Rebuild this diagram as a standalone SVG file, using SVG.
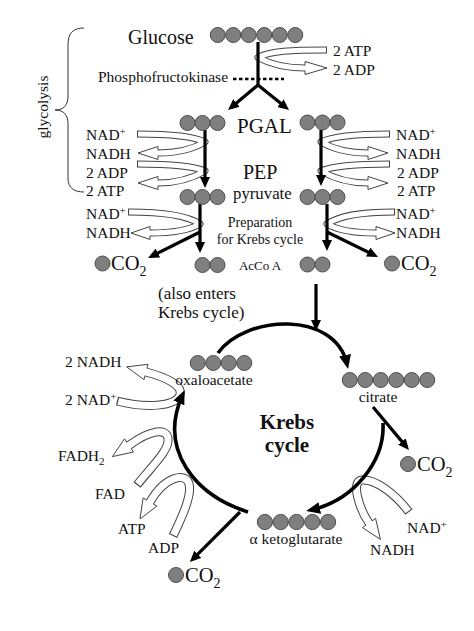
<svg xmlns="http://www.w3.org/2000/svg" width="474" height="631" viewBox="0 0 474 631">
<defs>
<style>
text{font-family:"Liberation Serif","Times New Roman",serif;fill:#111}
.c{fill:#7f7f7f;stroke:#4d4d4d;stroke-width:1}
.ln{fill:none;stroke:#000;stroke-width:3.2}
.arc{fill:none;stroke:#000;stroke-width:3.6}
.ob{fill:none;stroke:#444;stroke-width:7;stroke-linejoin:round}
.ow{fill:none;stroke:#fff;stroke-width:5;stroke-linejoin:round}
.kb{fill:none;stroke:#444;stroke-width:9;stroke-linejoin:round}
.kw{fill:none;stroke:#fff;stroke-width:7;stroke-linejoin:round}
.oh{fill:#fff;stroke:#444;stroke-width:1}
.s15{font-size:15.5px}
.s14{font-size:14px}
.big{font-size:20.5px}
.mid{text-anchor:middle}
</style>
<marker id="ah" viewBox="0 0 11 10" refX="7" refY="5" markerWidth="11" markerHeight="10" markerUnits="userSpaceOnUse" orient="auto"><path d="M0,0 L11,5 L0,10 z" fill="#000"/></marker>
<marker id="ak" viewBox="0 0 14 12" refX="9" refY="6" markerWidth="14" markerHeight="12" markerUnits="userSpaceOnUse" orient="auto"><path d="M0,0 L14,6 L0,12 z" fill="#000"/></marker>
</defs>
<rect width="474" height="631" fill="#fff"/>

<!-- brace and glycolysis label -->
<g id="glycolysis-brace">
<path d="M84,28 C72,28 68,34 68,45 L68,96 C68,105 64,110 55,110 C64,110 68,115 68,124 L68,178 C68,188 74,192 84,192" fill="none" stroke="#333" stroke-width="1"/>
<text transform="translate(48,107) rotate(-90)" class="s15 mid">glycolysis</text>
</g>

<!-- hollow cofactor arrows -->
<g id="cofactor-arrows">
<!-- glucose: 2 ATP in, 2 ADP out -->
<polygon class="oh" points="305,61.5 327,68 305,74.5"/>
<path class="ob" d="M327,50 C292,50 270,51 258,57.5 C270,64 285,68 305,68"/>
<path class="ow" d="M326,50 C292,50 270,51 258,57.5 C270,64 285,68 305,68 l2,0"/>
<!-- PGAL left -->
<polygon class="oh" points="158,146.5 138,153 158,159.5"/>
<polygon class="oh" points="158,176.5 138,183 158,189.5"/>
<path class="ob" d="M137,134 C170,134 193,136 205,142 C193,149 178,153 158,153"/>
<path class="ob" d="M137,164 C170,164 193,166 205,171 C193,178 178,183 158,183"/>
<path class="ow" d="M138,134 C170,134 193,136 205,142 C193,149 178,153 158,153 l-2,0"/>
<path class="ow" d="M138,164 C170,164 193,166 205,171 C193,178 178,183 158,183 l-2,0"/>
<!-- PGAL right -->
<polygon class="oh" points="368,146.5 388,153 368,159.5"/>
<polygon class="oh" points="368,176.5 388,183 368,189.5"/>
<path class="ob" d="M390,134 C356,134 333,136 321,142 C333,149 348,153 368,153"/>
<path class="ob" d="M390,164 C356,164 333,166 321,171 C333,178 348,183 368,183"/>
<path class="ow" d="M389,134 C356,134 333,136 321,142 C333,149 348,153 368,153 l2,0"/>
<path class="ow" d="M389,164 C356,164 333,166 321,171 C333,178 348,183 368,183 l2,0"/>
<!-- pyruvate left -->
<polygon class="oh" points="150,226.5 131,233 150,239.5"/>
<path class="ob" d="M128,212 C165,212 188,216 200,224 C188,231 170,233 150,233"/>
<path class="ow" d="M129,212 C165,212 188,216 200,224 C188,231 170,233 150,233 l-2,0"/>
<!-- pyruvate right -->
<polygon class="oh" points="376,226.5 395,233 376,239.5"/>
<path class="ob" d="M395,212 C358,212 339,216 327,224 C339,231 356,233 376,233"/>
<path class="ow" d="M394,212 C358,212 339,216 327,224 C339,231 356,233 376,233 l2,0"/>
<!-- Krebs: 2 NAD+ / 2 NADH -->
<polygon class="oh" points="148,364.3 126.7,366.9 144,379.7"/>
<path class="kb" d="M117,401 C145,408 175,407 180,395 C183,385 165,377 146,372"/>
<path class="kw" d="M118.2,401.3 C145,408 175,407 180,395 C183,385 165,377 146,372 l-1.9,-0.5"/>
<!-- Krebs: FAD / FADH2 -->
<polygon class="oh" points="133.5,452 112.4,456.6 124.5,438.8"/>
<path class="kb" d="M137,485 C152,466 170,450 168,438 C166,428 150,430 129,445.4"/>
<path class="kw" d="M137.7,484 C152,466 170,450 168,438 C166,428 150,430 129,445.4 l-1.7,1.2"/>
<!-- Krebs: ADP / ATP -->
<polygon class="oh" points="156.9,506.1 140,519 143.1,497.9"/>
<path class="kb" d="M173,536 C183,515 192,495 189,484 C186,472 165,476 150,502"/>
<path class="kw" d="M173.5,534.9 C183,515 192,495 189,484 C186,472 165,476 150,502 l-1,1.7"/>
<!-- Krebs: NAD+ / NADH -->
<polygon class="oh" points="375.6,518.4 380.4,539.4 362.4,527.6"/>
<path class="kb" d="M409,512 C395,494 376,479 362,480 C350,481 360,510 369,523"/>
<path class="kw" d="M408.3,511.1 C395,494 376,479 362,480 C350,481 360,510 369,523 l1.1,1.6"/>
</g>

<!-- connectors -->
<g id="connectors">
<path class="ln" d="M258,42 L258,85.5"/>
<path class="ln" d="M258,85 L231.1,107.4" marker-end="url(#ah)"/>
<path class="ln" d="M258,85 L285.9,107.5" marker-end="url(#ah)"/>
<path d="M233,79 L284,79" fill="none" stroke="#000" stroke-width="2.5" stroke-dasharray="3.5,2.5"/>
<path class="ln" d="M205,130 L205,184" marker-end="url(#ah)"/>
<path class="ln" d="M321,130 L321,182" marker-end="url(#ah)"/>
<path class="ln" d="M200,204 L200,249" marker-end="url(#ah)"/>
<path class="ln" d="M327,204 L327,247" marker-end="url(#ah)"/>
<path class="ln" d="M200,232 L151.6,256.2" marker-end="url(#ah)"/>
<path class="ln" d="M327,232 L374.4,255.2" marker-end="url(#ah)"/>
<path class="ln" d="M316,284 L316,327" marker-end="url(#ah)"/>
<path class="arc" d="M218,353 C245,315 335,310 347,364" marker-end="url(#ak)"/>
<path class="arc" d="M383,423 C385,460 355,500 311,510" marker-end="url(#ak)"/>
<path class="arc" d="M248,512 C195,495 158,450 182.5,394.7" marker-end="url(#ak)"/>
<path class="ln" d="M373,407 L406.4,446.9" marker-end="url(#ah)"/>
<path class="ln" d="M240,512 L192.8,559.2" marker-end="url(#ah)"/>
</g>

<!-- cofactor labels -->
<g id="labels">
<text x="333" y="55.5" class="s15">2 ATP</text>
<text x="333" y="74.5" class="s15">2 ADP</text>
<text x="98" y="82" class="s15">Phosphofructokinase</text>
<text x="86" y="139.5" class="s15">NAD<tspan font-size="11" dy="-5">+</tspan></text>
<text x="86" y="158.5" class="s15">NADH</text>
<text x="86" y="177.5" class="s15">2 ADP</text>
<text x="86" y="195.5" class="s15">2 ATP</text>
<text x="396" y="139.5" class="s15">NAD<tspan font-size="11" dy="-5">+</tspan></text>
<text x="396" y="158.5" class="s15">NADH</text>
<text x="397" y="177.5" class="s15">2 ADP</text>
<text x="397" y="195.5" class="s15">2 ATP</text>
<text x="86" y="218.5" class="s15">NAD<tspan font-size="11" dy="-5">+</tspan></text>
<text x="86" y="237.5" class="s15">NADH</text>
<text x="396" y="218.5" class="s15">NAD<tspan font-size="11" dy="-5">+</tspan></text>
<text x="396" y="237.5" class="s15">NADH</text>
<text x="260" y="227" class="s14 mid">Preparation</text>
<text x="260" y="244" class="s14 mid">for Krebs cycle</text>
<text x="158" y="298.5" font-size="17">(also enters</text>
<text x="158" y="317.5" font-size="17">Krebs cycle)</text>
<text x="65" y="366.5" class="s15">2 NADH</text>
<text x="65" y="405" class="s15">2 NAD<tspan font-size="11" dy="-5">+</tspan></text>
<text x="58" y="461" class="s15">FADH<tspan font-size="11" dy="4">2</tspan></text>
<text x="95" y="498.5" class="s15">FAD</text>
<text x="118" y="534" class="s15">ATP</text>
<text x="148" y="552.5" class="s15">ADP</text>
<text x="407" y="533" class="s15">NAD<tspan font-size="11" dy="-5">+</tspan></text>
<text x="370" y="555" class="s15">NADH</text>
</g>

<g id="glucose">
<text x="128" y="44" font-size="20">Glucose</text>
<circle class="c" cx="217.75" cy="35" r="7.5"/><circle class="c" cx="233.25" cy="35" r="7.5"/><circle class="c" cx="248.75" cy="35" r="7.5"/><circle class="c" cx="264.25" cy="35" r="7.5"/><circle class="c" cx="279.75" cy="35" r="7.5"/><circle class="c" cx="295.25" cy="35" r="7.5"/>
</g>

<g id="pgal">
<text x="237" y="133" font-size="21">PGAL</text>
<circle class="c" cx="187.5" cy="123" r="7.5"/><circle class="c" cx="202.5" cy="123" r="7.5"/><circle class="c" cx="217.5" cy="123" r="7.5"/>
<circle class="c" cx="307.5" cy="122.5" r="7.5"/><circle class="c" cx="322.5" cy="122.5" r="7.5"/><circle class="c" cx="337.5" cy="122.5" r="7.5"/>
</g>

<g id="pep">
<text x="243" y="179" font-size="20">PEP</text>
<text x="233" y="198.5" font-size="16.8">pyruvate</text>
<circle class="c" cx="187.5" cy="197" r="7.5"/><circle class="c" cx="202.5" cy="197" r="7.5"/><circle class="c" cx="217.5" cy="197" r="7.5"/>
<circle class="c" cx="307.5" cy="197" r="7.5"/><circle class="c" cx="322.5" cy="197" r="7.5"/><circle class="c" cx="337.5" cy="197" r="7.5"/>
</g>

<g id="acetyl-coa">
<text x="260" y="269.5" font-size="13" class="mid">AcCo A</text>
<circle class="c" cx="202.5" cy="265" r="7.5"/><circle class="c" cx="217.5" cy="265" r="7.5"/>
<circle class="c" cx="307.5" cy="264.5" r="7.5"/><circle class="c" cx="322.5" cy="264.5" r="7.5"/>
</g>

<g id="co2-left">
<circle class="c" cx="102.5" cy="263.5" r="7.5"/>
<text x="111" y="269.5" class="big">CO<tspan font-size="14" dy="6">2</tspan></text>
</g>
<g id="co2-right">
<circle class="c" cx="392" cy="263.5" r="7.5"/>
<text x="401" y="269.5" class="big">CO<tspan font-size="14" dy="6">2</tspan></text>
</g>

<g id="oxaloacetate">
<circle class="c" cx="197.75" cy="363" r="7.5"/><circle class="c" cx="213.25" cy="363" r="7.5"/><circle class="c" cx="228.75" cy="363" r="7.5"/><circle class="c" cx="244.25" cy="363" r="7.5"/>
<text x="214" y="385" class="s15 mid">oxaloacetate</text>
</g>

<g id="citrate">
<circle class="c" cx="349.75" cy="380" r="7.5"/><circle class="c" cx="365.25" cy="380" r="7.5"/><circle class="c" cx="380.75" cy="380" r="7.5"/><circle class="c" cx="396.25" cy="380" r="7.5"/><circle class="c" cx="411.75" cy="380" r="7.5"/><circle class="c" cx="427.25" cy="380" r="7.5"/>
<text x="378" y="402" class="s15 mid">citrate</text>
</g>

<g id="co2-citrate">
<circle class="c" cx="408" cy="464" r="7.5"/>
<text x="417" y="470.5" class="big">CO<tspan font-size="14" dy="6">2</tspan></text>
</g>

<g id="krebs-label">
<text x="287" y="429" font-size="21" font-weight="bold" class="mid">Krebs</text>
<text x="287" y="452" font-size="21" font-weight="bold" class="mid">cycle</text>
</g>

<g id="ketoglutarate">
<circle class="c" cx="264.9" cy="522" r="7.6"/><circle class="c" cx="280.7" cy="522" r="7.6"/><circle class="c" cx="296.5" cy="522" r="7.6"/><circle class="c" cx="312.3" cy="522" r="7.6"/><circle class="c" cx="328.1" cy="522" r="7.6"/>
<text x="296" y="544" class="s15 mid">α ketoglutarate</text>
</g>

<g id="co2-bottom">
<circle class="c" cx="176" cy="575" r="7.5"/>
<text x="185" y="582" class="big">CO<tspan font-size="14" dy="6">2</tspan></text>
</g>
</svg>
